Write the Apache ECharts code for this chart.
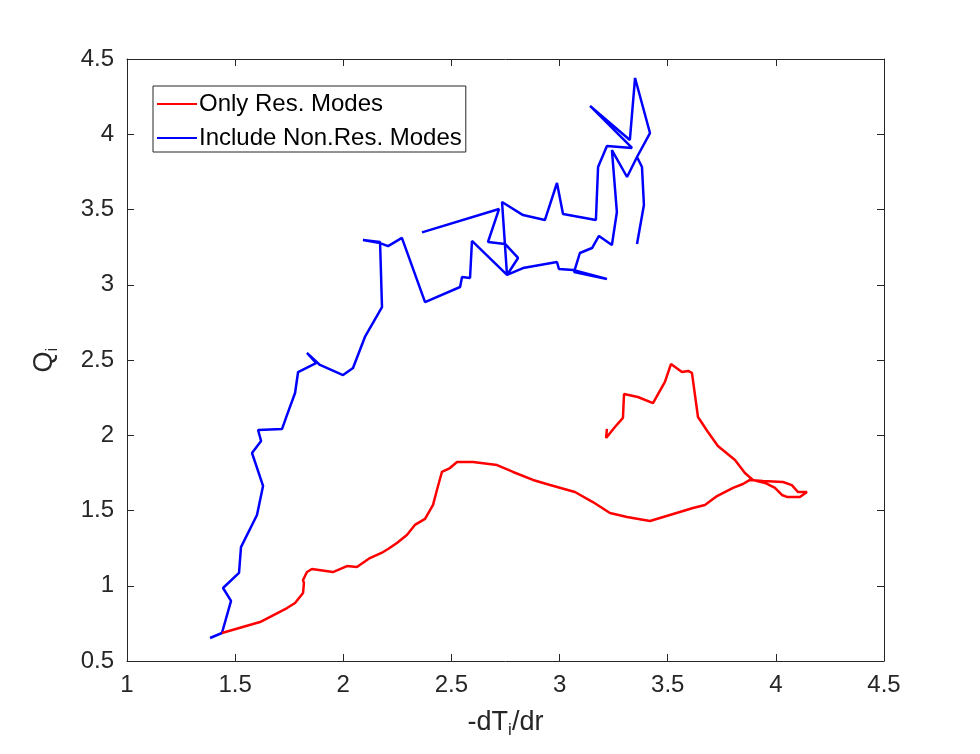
<!DOCTYPE html>
<html>
<head>
<meta charset="utf-8">
<script src="https://cdn.jsdelivr.net/npm/echarts@6/dist/echarts.min.js"></script>
<style>
html,body{margin:0;padding:0;background:#fff;}
#chart{width:980px;height:754px;}
</style>
</head>
<body>
<div id="chart"></div>
<script>
// ---- data ----
const seriesNames = ['Only Res. Modes', 'Include Non.Res. Modes'];
const xTicks = [1, 1.5, 2, 2.5, 3, 3.5, 4, 4.5];
const yTicks = [0.5, 1, 1.5, 2, 2.5, 3, 3.5, 4, 4.5];

const redX = [1.439,1.615,1.740,1.777,1.814,1.818,1.814,1.832,1.855,1.952,2.017,2.063,2.123,2.184,2.207,2.248,2.294,2.331,2.378,2.415,2.433,2.456,2.493,2.526,2.600,2.711,2.785,2.877,2.956,3.071,3.154,3.233,3.312,3.418,3.510,3.617,3.672,3.728,3.802,3.848,3.880,3.940,4.033,4.074,4.102,4.144,4.148,4.111,4.051,4.028,3.996,3.950,3.894,3.857,3.811,3.732,3.686,3.640,3.612,3.594,3.566,3.515,3.487,3.432,3.362,3.298,3.293,3.256,3.215,3.219];
const redY = [0.686,0.759,0.852,0.885,0.952,1.018,1.038,1.091,1.111,1.091,1.131,1.125,1.184,1.224,1.244,1.284,1.337,1.404,1.444,1.537,1.636,1.756,1.782,1.822,1.822,1.802,1.756,1.703,1.669,1.623,1.556,1.483,1.457,1.430,1.470,1.517,1.537,1.596,1.650,1.676,1.703,1.696,1.689,1.669,1.623,1.623,1.610,1.590,1.590,1.603,1.650,1.683,1.703,1.749,1.836,1.929,2.022,2.121,2.414,2.427,2.420,2.473,2.354,2.214,2.254,2.274,2.115,2.055,1.982,2.042];

const blueX = [1.384,1.439,1.481,1.444,1.518,1.527,1.601,1.629,1.578,1.620,1.606,1.717,1.740,1.777,1.791,1.874,1.832,1.892,1.999,2.045,2.100,2.179,2.170,2.091,2.170,2.207,2.271,2.378,2.540,2.549,2.586,2.595,2.757,2.831,2.988,2.997,3.062,3.219,3.067,3.094,3.150,3.182,3.242,3.265,3.242,3.312,3.358,3.381,3.390,3.358,3.390,3.381,3.358,3.418,3.349,3.325,3.141,3.335,3.219,3.178,3.168,3.016,2.988,2.932,2.831,2.734,2.757,2.808,2.748,2.669,2.720,2.364];
const blueY = [0.653,0.686,0.899,0.985,1.085,1.257,1.470,1.663,1.882,1.962,2.035,2.042,2.135,2.281,2.420,2.480,2.547,2.467,2.400,2.447,2.653,2.852,3.284,3.297,3.277,3.257,3.311,2.885,2.985,3.052,3.045,3.291,3.065,3.111,3.151,3.105,3.098,3.038,3.085,3.211,3.244,3.324,3.264,3.483,3.895,3.716,3.849,3.782,3.530,3.271,3.530,3.782,3.849,4.008,4.374,3.962,4.188,3.909,3.922,3.782,3.430,3.470,3.676,3.430,3.463,3.550,3.065,3.178,3.271,3.284,3.503,3.348];

const zip = (xs, ys) => xs.map((x, i) => [x, ys[i]]);

const FONT = '"Liberation Sans", Arial, Helvetica, sans-serif';
const AX = '#262626';

const chart = echarts.init(document.getElementById('chart'), null, {renderer: 'canvas'});

function xAx(pos, showLabel) {
  return {
    type: 'value', position: pos, min: xTicks[0], max: xTicks[xTicks.length - 1], interval: 0.5,
    axisLine: {show: true, onZero: false, lineStyle: {color: AX, width: 1}},
    axisTick: {show: true, inside: true, length: 7, lineStyle: {color: AX}},
    axisLabel: {show: showLabel, fontFamily: FONT, fontSize: 24, color: AX, margin: 12},
    splitLine: {show: false}
  };
}
function yAx(pos, showLabel) {
  return {
    type: 'value', position: pos, min: yTicks[0], max: yTicks[yTicks.length - 1], interval: 0.5,
    axisLine: {show: true, onZero: false, lineStyle: {color: AX, width: 1}},
    axisTick: {show: true, inside: true, length: 7, lineStyle: {color: AX}},
    axisLabel: {show: showLabel, fontFamily: FONT, fontSize: 24, color: AX, margin: 13},
    splitLine: {show: false}
  };
}

const xMain = xAx('bottom', true);
xMain.name = '-dT{sub|i}/dr';
xMain.nameLocation = 'middle';
xMain.nameGap = 46;
xMain.nameTextStyle = {fontFamily: FONT, fontSize: 27, color: AX,
  rich: {sub: {fontFamily: FONT, fontSize: 17, color: AX, verticalAlign: 'bottom', padding: [15, 0, 0, 0]}}};
const xTop = xAx('top', false);

const yMain = yAx('left', true);
yMain.name = 'Q{sub|i}';
yMain.nameLocation = 'middle';
yMain.nameGap = 66;
yMain.nameTextStyle = {fontFamily: FONT, fontSize: 27, color: AX,
  rich: {sub: {fontFamily: FONT, fontSize: 17, color: AX, verticalAlign: 'bottom', padding: [15, 0, 0, 0]}}};
const yRight = yAx('right', false);

chart.setOption({
  animation: false,
  backgroundColor: '#ffffff',
  grid: {left: 127, right: 96, top: 59, bottom: 93, containLabel: false},
  legend: {
    left: 153, top: 86, orient: 'vertical',
    data: seriesNames,
    icon: 'rect', itemWidth: 40, itemHeight: 2, itemGap: 8,
    padding: [5, 4, 1, 4],
    borderColor: '#262626', borderWidth: 1, backgroundColor: '#ffffff',
    textStyle: {fontFamily: FONT, fontSize: 24, color: '#000', lineHeight: 26, padding: [0, 0, 0, -3]}
  },
  xAxis: [xMain, xTop],
  yAxis: [yMain, yRight],
  series: [
    {name: seriesNames[0], type: 'line', data: zip(redX, redY), showSymbol: false, symbol: 'none',
     lineStyle: {color: '#ff0000', width: 2.5}, itemStyle: {color: '#ff0000'}, z: 3},
    {name: seriesNames[1], type: 'line', data: zip(blueX, blueY), showSymbol: false, symbol: 'none',
     lineStyle: {color: '#0000ff', width: 2.5}, itemStyle: {color: '#0000ff'}, z: 2}
  ]
});
</script>
</body>
</html>
